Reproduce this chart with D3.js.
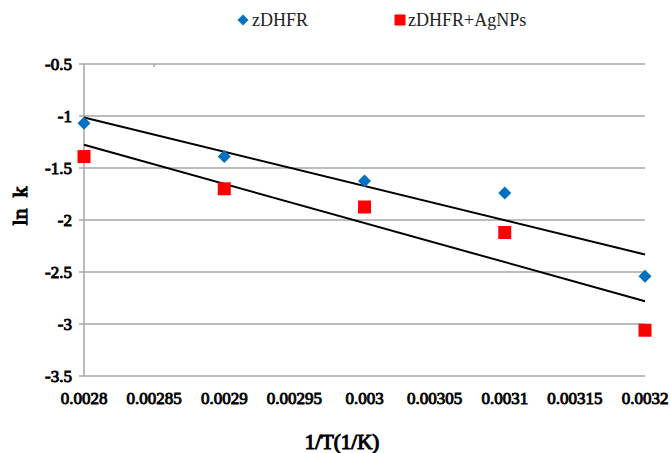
<!DOCTYPE html>
<html>
<head>
<meta charset="utf-8">
<script src="https://cdn.jsdelivr.net/npm/d3@7"></script>
<style>
  body { margin: 0; background: #fff; }
  svg { display: block; font-family: "Liberation Serif", "Times New Roman", serif; }
  .bold { font-weight: normal; stroke: #000; stroke-width: 0.9px; fill: #000; }
  .title { stroke-width: 1.1px; }
</style>
</head>
<body>
<div class="canvas"></div>
<script>
// inverse temperature (1/K)
const invT = [0.0028, 0.0029, 0.003, 0.0031, 0.0032];
// ln k for each enzyme
const lnkFree = [-1.07, -1.39, -1.625, -1.74, -2.54];
const lnkAg = [-1.39, -1.70, -1.875, -2.12, -3.06];
const xTicks = [0.0028, 0.00285, 0.0029, 0.00295, 0.003, 0.00305, 0.0031, 0.00315, 0.0032];
const yTicks = [-0.5, -1, -1.5, -2, -2.5, -3, -3.5];

const series = [
  { name: 'zDHFR', values: lnkFree, colour: '#0070c0', shape: 'diamond' },
  { name: 'zDHFR+AgNPs', values: lnkAg, colour: '#ff0000', shape: 'square' }
];

const svg = d3.select('.canvas')
  .append('svg')
  .attr('width', 671)
  .attr('height', 453);

const x = d3.scaleLinear().domain([0.0028, 0.0032]).range([84, 645]);
const y = d3.scaleLinear().domain([-3.5, -0.5]).range([376, 64]);

// horizontal gridlines
svg.append('g')
  .selectAll('line')
  .data(yTicks)
  .enter()
  .append('line')
  .attr('x1', 79)
  .attr('x2', 645)
  .attr('y1', d => y(d))
  .attr('y2', d => y(d))
  .attr('stroke', '#a6a6a6')
  .attr('stroke-width', 1.5);

// vertical axis line
svg.append('line')
  .attr('x1', 84).attr('x2', 84)
  .attr('y1', y(-0.5)).attr('y2', y(-3.5))
  .attr('stroke', '#a6a6a6')
  .attr('stroke-width', 1.5);

// little tick on the top line
svg.append('line')
  .attr('x1', x(0.00285)).attr('x2', x(0.00285))
  .attr('y1', y(-0.5)).attr('y2', y(-0.5) + 3)
  .attr('stroke', '#a6a6a6')
  .attr('stroke-width', 1.5);

// y tick labels
svg.append('g')
  .selectAll('text')
  .data(yTicks)
  .enter()
  .append('text')
  .attr('class', 'bold')
  .attr('x', 72)
  .attr('y', d => y(d))
  .attr('dy', '0.35em')
  .attr('text-anchor', 'end')
  .attr('font-size', 17)
  .text(d => d);

// x tick labels
svg.append('g')
  .selectAll('text')
  .data(xTicks)
  .enter()
  .append('text')
  .attr('class', 'bold')
  .attr('x', d => x(d))
  .attr('y', 404)
  .attr('text-anchor', 'middle')
  .attr('font-size', 17)
  .text(d => d);

// axis titles
svg.append('text')
  .attr('class', 'bold title')
  .attr('x', 342)
  .attr('y', 449)
  .attr('text-anchor', 'middle')
  .attr('font-size', 21)
  .text('1/T(1/K)');

svg.append('text')
  .attr('class', 'bold title')
  .attr('transform', 'translate(27, 206) rotate(-90)')
  .attr('text-anchor', 'middle')
  .attr('font-size', 22)
  .attr('xml:space', 'preserve')
  .text('ln  k');

// least squares trend line per series
const fit = vals => {
  const mx = d3.mean(invT), my = d3.mean(vals);
  const slope = d3.sum(invT, (t, i) => (t - mx) * (vals[i] - my)) / d3.sum(invT, t => (t - mx) ** 2);
  return t => my + slope * (t - mx);
};

const line = d3.line().x(d => x(d[0])).y(d => y(d[1]));

series.forEach(s => {
  const f = fit(s.values);
  svg.append('path')
    .attr('d', line([[0.0028, f(0.0028)], [0.0032, f(0.0032)]]))
    .attr('fill', 'none')
    .attr('stroke', '#000')
    .attr('stroke-width', 2);
});

series.forEach(s => {
  svg.append('g')
    .selectAll('path')
    .data(s.values)
    .enter()
    .append('path')
    .attr('d', d3.symbol().type(d3.symbolSquare).size(s.shape === 'diamond' ? 85 : 169)())
    .attr('transform', (d, i) => `translate(${x(invT[i])}, ${y(d)})` + (s.shape === 'diamond' ? ' rotate(45)' : ''))
    .attr('fill', s.colour);
});

// legend
const legendPos = [243, 400];
series.forEach((s, i) => {
  const g = svg.append('g').attr('transform', `translate(${legendPos[i]}, 20)`);
  g.append('path')
    .attr('d', d3.symbol().type(d3.symbolSquare).size(s.shape === 'diamond' ? 60 : 121)())
    .attr('transform', s.shape === 'diamond' ? 'rotate(45)' : '')
    .attr('fill', s.colour);
  g.append('text')
    .attr('x', i === 0 ? 9 : 8)
    .attr('dy', '0.35em')
    .attr('font-size', 18)
    .attr('fill', '#222')
    .text(s.name);
});
</script>
</body>
</html>
